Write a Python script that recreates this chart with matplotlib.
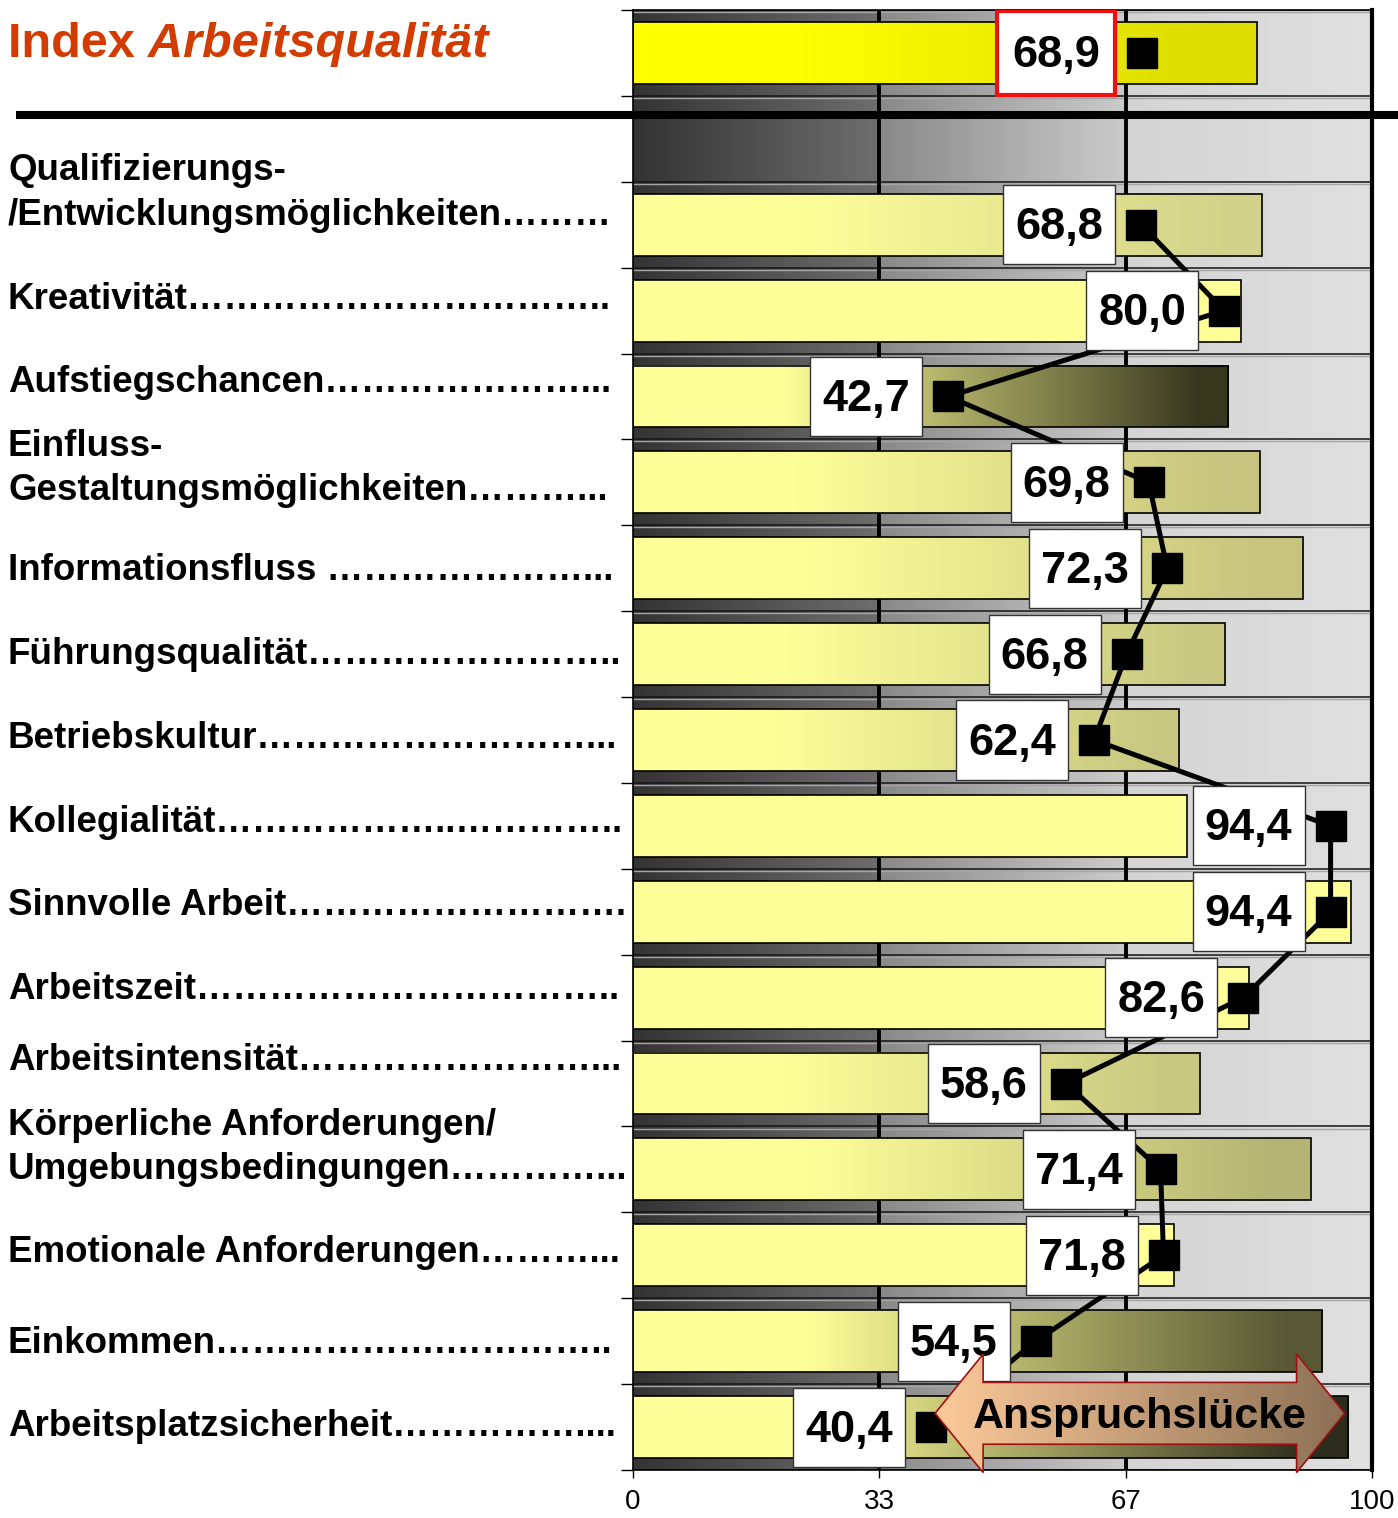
import numpy as np
import matplotlib.pyplot as plt
import matplotlib.transforms as mtransforms
from matplotlib.patches import Rectangle, Polygon
from matplotlib.lines import Line2D
from matplotlib.colors import to_rgb

plt.rcParams['font.family'] = ['Liberation Sans', 'DejaVu Sans']

# data
title_plain = 'Index '
title_italic = 'Arbeitsqualität'
index_value = 68.9
index_bar = 84.4

categories = [
    'Qualifizierungs-\n/Entwicklungsmöglichkeiten' + '…' * 3,
    'Kreativität' + '…' * 11 + '..',
    'Aufstiegschancen' + '…' * 7 + '...',
    'Einfluss-\nGestaltungsmöglichkeiten' + '…' * 3 + '...',
    'Informationsfluss ' + '…' * 7 + '...',
    'Führungsqualität' + '…' * 8 + '..',
    'Betriebskultur' + '…' * 9 + '...',
    'Kollegialität' + '…' * 6 + '..' + '…' * 4 + '..',
    'Sinnvolle Arbeit' + '…' * 9 + '.',
    'Arbeitszeit' + '…' * 11 + '..',
    'Arbeitsintensität' + '…' * 8 + '...',
    'Körperliche Anforderungen/\nUmgebungsbedingungen' + '…' * 4 + '...',
    'Emotionale Anforderungen' + '…' * 3 + '...',
    'Einkommen' + '…' * 6 + '.' + '…' * 4 + '..',
    'Arbeitsplatzsicherheit' + '…' * 5 + '....',
]
values = [68.8, 80.0, 42.7, 69.8, 72.3, 66.8, 62.4, 94.4, 94.4, 82.6, 58.6, 71.4, 71.8, 54.5, 40.4]
bar_ends = [85.1, 82.3, 80.5, 84.9, 90.7, 80.1, 73.9, 75.0, 97.2, 83.4, 76.8, 91.7, 73.2, 93.2, 96.8]
tick_values = [0, 100 / 3, 200 / 3, 100]
tick_labels = ['0', '33', '67', '100']
gap_text = 'Anspruchslücke'

# styles
bar_end_colors = ['#d2d28a', '#ffff99', '#38381f', '#c6c47e', '#c6c47e', '#c8c882', '#c8c882',
                  '#ffff99', '#ffff99', '#ffff99', '#c8c882', '#b4b474', '#ffff99', '#585834', '#2c2c1c']
label_offsets_px = [0, -2, -4, 18, 12, 10, 8, 6, 3, 1, -14, 10, 7, 12, 9]

W, H = 1398, 1518
fig = plt.figure(figsize=(W / 100, H / 100), dpi=100)
ax = fig.add_axes([632.7 / W, 1 - 1470 / H, (1372 - 632.7) / W, 1460 / H])
nrows = len(categories) + 2
row_px = 1460 / nrows
px_x = (1372 - 632.7) / 100


def hgrad(c0, c1, start=0.25, stop=0.95, n=256):
    t = np.clip((np.linspace(0, 1, n) - start) / (stop - start), 0, 1)[:, None]
    a, b = np.array(to_rgb(c0)), np.array(to_rgb(c1))
    return (a * (1 - t) + b * t)[None, :, :]


# background bands
xs = np.linspace(0, 100, 1200)
bg = np.zeros((1, xs.size, 3))
segs = [(0, 100 / 3, '#333333', '#6e6e6e'), (100 / 3, 200 / 3, '#898989', '#cbcbcb'),
        (200 / 3, 100, '#d4d4d4', '#e0e0e0')]
for lo, hi, c0, c1 in segs:
    m = (xs >= lo) & (xs <= hi)
    t = ((xs[m] - lo) / (hi - lo))[:, None]
    bg[0, m] = np.array(to_rgb(c0)) * (1 - t) + np.array(to_rgb(c1)) * t
ax.imshow(bg, extent=(0, 100, nrows - 0.5, -0.5), aspect='auto', zorder=0, interpolation='bilinear')

for b in np.arange(-0.5, nrows, 1):
    ax.hlines(b, 0, 100, color='#151515', lw=1.1, zorder=1)
    ax.hlines(b + 0.024, 0, 100, color='#a5a5a5', lw=1, zorder=1)
for xv in tick_values[1:3]:
    ax.axvline(xv, color='black', lw=2.8, zorder=1.5)

bh = 0.72


def draw_bar(row, end, c0, c1):
    ax.imshow(hgrad(c0, c1), extent=(0, end, row + bh / 2, row - bh / 2), aspect='auto',
              zorder=2, interpolation='bilinear')
    ax.add_patch(Rectangle((0, row - bh / 2), end, bh, fill=False, ec='black', lw=1.2, zorder=2.1))


draw_bar(0, index_bar, '#ffff00', '#dcdc00')
rows = np.arange(2, nrows)
for r, e, c in zip(rows, bar_ends, bar_end_colors):
    draw_bar(r, e, '#ffff99', c)

# connecting line and markers
ax.plot(values, rows, color='black', lw=3.6, zorder=3, solid_joinstyle='round')
ax.plot(values + [index_value], list(rows) + [0], 's', color='black', ms=21, zorder=5)


def fmt(v):
    return f'{v:.1f}'.replace('.', ',')


txt_dy = 3 / row_px
bw, bhh = 112 / px_x, 0.92
for r, v in zip(rows, values):
    cx = v - 82 / px_x
    ax.add_patch(Rectangle((cx - bw / 2, r - bhh / 2), bw, bhh, fc='white', ec='#333333', lw=1, zorder=4))
    ax.text(cx, r + txt_dy, fmt(v), ha='center', va='center', fontsize=32.5, fontweight='bold', zorder=4.5)

iw = 118 / px_x
icx = index_value - 86 / px_x
ax.add_patch(Rectangle((icx - iw / 2, -0.49), iw, 0.98, fc='white', ec='#ee1111', lw=3, zorder=4))
ax.text(icx, txt_dy, fmt(index_value), ha='center', va='center', fontsize=32.5, fontweight='bold', zorder=4.5)

# gap arrow on last row
xl, xr = values[-1] + 0.5, bar_ends[-1] - 0.5
yc = rows[-1] - 0.16
hl, hh, sh = 6.5, 0.69, 0.36
verts = [(xl, yc), (xl + hl, yc - hh), (xl + hl, yc - sh), (xr - hl, yc - sh), (xr - hl, yc - hh),
         (xr, yc), (xr - hl, yc + hh), (xr - hl, yc + sh), (xl + hl, yc + sh), (xl + hl, yc + hh)]
arrow = Polygon(verts, closed=True, fc='none', ec='#a01010', lw=1.2, zorder=6.5, clip_on=False)
ax.add_patch(arrow)
im = ax.imshow(hgrad('#fdca9a', '#8c7055', start=0, stop=1), extent=(xl, xr, yc + hh, yc - hh),
               aspect='auto', zorder=6, interpolation='bilinear')
im.set_clip_path(arrow)
ax.text((xl + xr) / 2, yc + 4 / row_px, gap_text, ha='center', va='center', fontsize=31,
        fontweight='bold', zorder=7)

ax.set_xlim(0, 100)
ax.set_ylim(nrows - 0.5, -0.5)
ax.set_xticks(tick_values)
ax.set_xticklabels(tick_labels)
ax.set_yticks(np.arange(-0.5, nrows, 1))
ax.set_yticklabels([])
ax.tick_params(axis='x', length=5.8, width=1, pad=8, labelsize=20)
ax.tick_params(axis='y', length=8.6, width=1)
for s in ['left', 'bottom', 'top']:
    ax.spines[s].set_linewidth(1.2)
ax.spines['right'].set_linewidth(3)

# left labels
trans = mtransforms.blended_transform_factory(fig.transFigure, ax.transData)
for r, lab, off in zip(rows, categories, label_offsets_px):
    ax.text(8 / W, r + off / row_px, lab, transform=trans, ha='left', va='baseline',
            fontsize=26.5, fontweight='bold', linespacing=1.36, clip_on=False)

t1 = ax.text(8 / W, 0 + 4 / row_px, title_plain, transform=trans, ha='left', va='baseline',
             fontsize=35, fontweight='bold', color='#d23c00', clip_on=False)
fig.canvas.draw()
bb = t1.get_window_extent()
ax.text(bb.x1 / W, 0 + 4 / row_px, title_italic, transform=trans, ha='left', va='baseline',
        fontsize=35, fontweight='bold', fontstyle='italic', color='#d23c00', clip_on=False)

fig.add_artist(Line2D([16 / W, 1.0], [1 - 115 / H, 1 - 115 / H], color='black', lw=5.8,
                      solid_capstyle='butt', zorder=10))

fig.savefig('out.png', dpi=100)
